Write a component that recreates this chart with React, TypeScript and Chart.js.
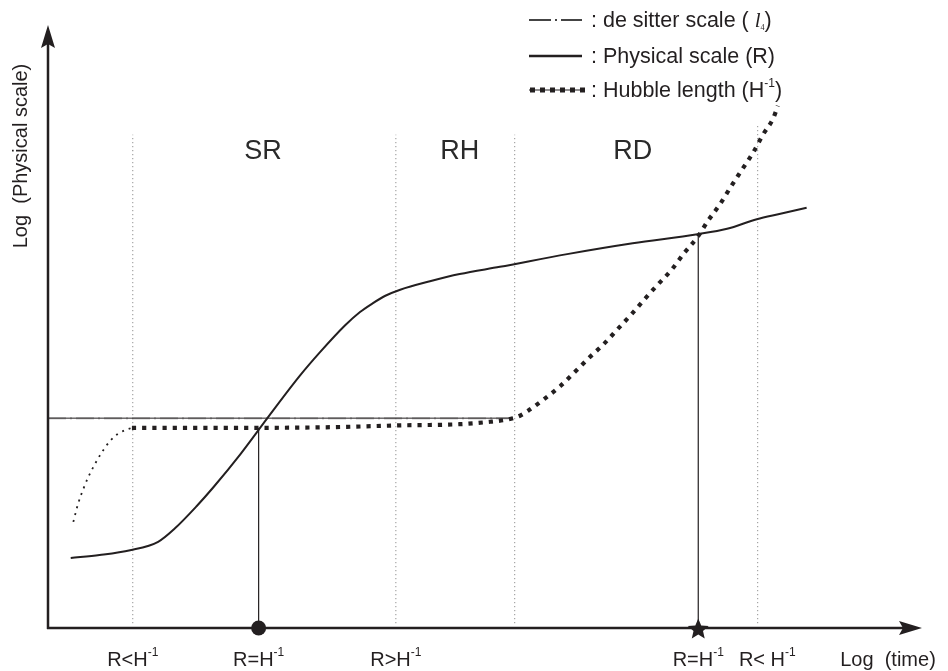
import React, { useEffect, useRef } from "react";
import { Chart, registerables } from "chart.js";

Chart.register(...registerables);

const INK = "#231f20";
const SANS = "'Liberation Sans', Arial, sans-serif";
const SERIF = "'Liberation Serif', 'Times New Roman', serif";

// Axis ranges (log time, log physical scale) in arbitrary units
const X_MIN = 0;
const X_MAX = 10;
const Y_MIN = 0;
const Y_MAX = 10;

// Physical scale R
const physicalX = [0.26, 0.59, 0.94, 1.26, 1.45, 1.7, 1.89, 2.2, 2.51, 2.88, 3.11, 3.4, 3.57, 3.71, 3.86, 4.03, 4.37, 4.71, 5.17, 5.94, 6.69, 7.43, 7.77, 8.11, 8.38, 8.68];
const physicalY = [1.16, 1.21, 1.29, 1.43, 1.65, 2.02, 2.33, 2.88, 3.48, 4.18, 4.57, 5.02, 5.24, 5.38, 5.51, 5.61, 5.75, 5.87, 5.99, 6.2, 6.38, 6.53, 6.62, 6.78, 6.87, 6.97];

// Hubble length H^-1 (early, thin dotted part)
const hubbleEarlyX = [0.29, 0.34, 0.4, 0.46, 0.53, 0.61, 0.71, 0.8, 0.88, 0.96];
const hubbleEarlyY = [1.76, 2.04, 2.29, 2.5, 2.7, 2.9, 3.1, 3.22, 3.28, 3.32];

// Hubble length H^-1 (main, thick dotted part)
const hubbleX = [0.96, 1.74, 2.43, 3.23, 4.03, 4.71, 5.06, 5.23, 5.32, 5.4, 5.49, 5.68, 5.86, 6.03, 6.19, 6.36, 6.52, 6.68, 6.83, 6.98, 7.14, 7.28, 7.43, 7.55, 7.69, 7.81, 7.94, 8.07, 8.18, 8.3, 8.35];
const hubbleY = [3.32, 3.32, 3.32, 3.33, 3.36, 3.38, 3.42, 3.45, 3.48, 3.52, 3.6, 3.8, 4.01, 4.25, 4.48, 4.71, 4.96, 5.21, 5.46, 5.7, 5.95, 6.22, 6.48, 6.75, 7.03, 7.31, 7.6, 7.89, 8.18, 8.46, 8.66];

// de Sitter scale l4
const deSitterX = [0, 5.32];
const deSitterY = [3.48, 3.48];

// Era boundaries (dotted verticals)
const boundaryX = [0.97, 3.98, 5.34, 8.12];
const boundaryBottom = [0.08, 0.08, 0.08, 0.08];
const boundaryTop = [8.18, 8.18, 8.18, 8.36];

// Horizon crossings R = H^-1
const crossingX = [2.41, 7.44];
const crossingY = [3.32, 6.53];
const crossingMarks = ["circle", "star"];

// Era labels
const regionLabels = ["SR", "RH", "RD"];
const regionX = [2.46, 4.71, 6.69];
const regionY = 7.93;

// Bottom tick labels
const tickBase = ["R<H", "R=H", "R>H", "R=H", "R< H"];
const tickSup = "-1";
const tickX = [0.97, 2.41, 3.98, 7.44, 8.23];

const xTitle = "Log  (time)";
const yTitle = "Log  (Physical scale)";

const zip = (xs: number[], ys: number[]) => xs.map((x, i) => ({ x, y: ys[i] }));

type Part = { t: string; font: string; dy?: number };

function drawParts(ctx: CanvasRenderingContext2D, parts: Part[], x: number, y: number, align: "left" | "center") {
  let w = 0;
  for (const p of parts) {
    ctx.font = p.font;
    w += ctx.measureText(p.t).width;
  }
  let cx = align === "center" ? x - w / 2 : x;
  ctx.textAlign = "left";
  ctx.textBaseline = "alphabetic";
  for (const p of parts) {
    ctx.font = p.font;
    ctx.fillText(p.t, cx, y + (p.dy || 0));
    cx += ctx.measureText(p.t).width;
  }
}

function drawStar(ctx: CanvasRenderingContext2D, cx: number, cy: number, ro: number, ri: number) {
  ctx.beginPath();
  for (let i = 0; i < 10; i++) {
    const r = i % 2 === 0 ? ro : ri;
    const a = -Math.PI / 2 + (i * Math.PI) / 5;
    const px = cx + r * Math.cos(a);
    const py = cy + r * Math.sin(a);
    if (i === 0) ctx.moveTo(px, py);
    else ctx.lineTo(px, py);
  }
  ctx.closePath();
  ctx.fill();
}

const overlayPlugin = {
  id: "overlay",
  afterDatasetsDraw(chart: any) {
    const ctx: CanvasRenderingContext2D = chart.ctx;
    const a = chart.chartArea;
    const xs = chart.scales.x;
    const ys = chart.scales.y;
    const ox = xs.getPixelForValue(X_MIN);
    const oy = ys.getPixelForValue(Y_MIN);
    ctx.save();
    ctx.fillStyle = INK;
    ctx.strokeStyle = INK;

    // axes
    ctx.lineWidth = 2.5;
    ctx.beginPath();
    ctx.moveTo(ox, oy + 1);
    ctx.lineTo(ox, a.top + 18);
    ctx.moveTo(ox - 1, oy);
    ctx.lineTo(a.right - 18, oy);
    ctx.stroke();
    // arrowheads
    ctx.beginPath();
    ctx.moveTo(ox, a.top);
    ctx.lineTo(ox - 7, a.top + 23);
    ctx.lineTo(ox, a.top + 19);
    ctx.lineTo(ox + 7, a.top + 23);
    ctx.closePath();
    ctx.fill();
    ctx.beginPath();
    ctx.moveTo(a.right, oy);
    ctx.lineTo(a.right - 23, oy - 7);
    ctx.lineTo(a.right - 19, oy);
    ctx.lineTo(a.right - 23, oy + 7);
    ctx.closePath();
    ctx.fill();

    // crossing markers
    crossingX.forEach((cxv, i) => {
      const px = xs.getPixelForValue(cxv);
      if (crossingMarks[i] === "circle") {
        ctx.beginPath();
        ctx.arc(px, oy, 7.5, 0, Math.PI * 2);
        ctx.fill();
      } else {
        drawStar(ctx, px, oy + 1.5, 11, 5);
      }
    });

    // era labels
    ctx.fillStyle = "#2a2a2a";
    regionLabels.forEach((lab, i) => {
      drawParts(ctx, [{ t: lab, font: `27px ${SANS}` }], xs.getPixelForValue(regionX[i]), ys.getPixelForValue(regionY) + 9, "center");
    });

    // bottom tick labels
    ctx.fillStyle = INK;
    const tickBaseline = oy + 38;
    tickBase.forEach((t, i) => {
      drawParts(
        ctx,
        [
          { t, font: `20px ${SANS}` },
          { t: tickSup, font: `12px ${SANS}`, dy: -10 },
        ],
        xs.getPixelForValue(tickX[i]),
        tickBaseline,
        "center"
      );
    });
    drawParts(ctx, [{ t: xTitle, font: `20px ${SANS}` }], 888, tickBaseline, "center");

    // y title
    ctx.save();
    ctx.translate(21, 156);
    ctx.rotate(-Math.PI / 2);
    ctx.font = `20px ${SANS}`;
    ctx.textAlign = "center";
    ctx.textBaseline = "middle";
    ctx.fillText(yTitle, 0, 0);
    ctx.restore();

    // legend
    const lx0 = 529;
    const lx1 = 582;
    const tx = 591;
    const rows = [20, 56, 90];
    // de sitter sample
    ctx.strokeStyle = "#444";
    ctx.lineWidth = 2.2;
    ctx.beginPath();
    ctx.moveTo(lx0, rows[0]);
    ctx.lineTo(lx0 + 22, rows[0]);
    ctx.moveTo(lx0 + 26, rows[0]);
    ctx.lineTo(lx0 + 28, rows[0]);
    ctx.moveTo(lx0 + 32, rows[0]);
    ctx.lineTo(lx1, rows[0]);
    ctx.stroke();
    // physical sample
    ctx.strokeStyle = INK;
    ctx.lineWidth = 2.5;
    ctx.beginPath();
    ctx.moveTo(lx0, rows[1]);
    ctx.lineTo(lx1, rows[1]);
    ctx.stroke();
    // hubble sample
    ctx.lineWidth = 1.2;
    ctx.beginPath();
    ctx.moveTo(lx0, rows[2]);
    ctx.lineTo(lx1, rows[2]);
    ctx.stroke();
    for (let k = 0; k < 6; k++) {
      ctx.fillRect(lx0 + 1 + k * 10, rows[2] - 2.5, 5, 5);
    }
    const lf = `21.5px ${SANS}`;
    drawParts(
      ctx,
      [
        { t: ": de sitter scale ( ", font: lf },
        { t: "l", font: `italic 21px ${SERIF}` },
        { t: "4", font: `8px ${SERIF}`, dy: 3 },
        { t: ")", font: lf },
      ],
      tx,
      rows[0] + 7,
      "left"
    );
    drawParts(ctx, [{ t: ": Physical scale (R)", font: lf }], tx, rows[1] + 7, "left");
    drawParts(
      ctx,
      [
        { t: ": Hubble length (H", font: lf },
        { t: "-1", font: `12px ${SANS}`, dy: -10 },
        { t: ")", font: lf },
      ],
      tx,
      rows[2] + 7,
      "left"
    );
    ctx.restore();
  },
};

export default function App() {
  const ref = useRef<HTMLCanvasElement | null>(null);
  useEffect(() => {
    if (!ref.current) return;
    // Listed top-most first (Chart.js draws the first dataset last)
    const datasets: any[] = [];
    datasets.push({
      data: zip(physicalX, physicalY),
      borderColor: INK,
      borderWidth: 2,
      cubicInterpolationMode: "monotone",
    });
    datasets.push({
      data: zip(hubbleX, hubbleY),
      borderColor: INK,
      borderWidth: 4.2,
      borderDash: [4.2, 6],
      borderCapStyle: "butt",
      cubicInterpolationMode: "monotone",
    });
    datasets.push({
      data: zip(hubbleEarlyX, hubbleEarlyY),
      borderColor: INK,
      borderWidth: 1.8,
      borderDash: [2, 5],
      cubicInterpolationMode: "monotone",
    });
    datasets.push({
      data: zip(deSitterX, deSitterY),
      borderColor: INK,
      borderWidth: 1,
    });
    datasets.push({
      data: zip(deSitterX, deSitterY),
      borderColor: "rgba(140,140,140,0.45)",
      borderWidth: 2.5,
      borderDash: [18, 4, 2, 4],
    });
    crossingX.forEach((cx, i) => {
      datasets.push({
        data: [
          { x: cx, y: Y_MIN },
          { x: cx, y: crossingY[i] },
        ],
        borderColor: INK,
        borderWidth: 1.2,
      });
    });
    boundaryX.forEach((bx, i) => {
      datasets.push({
        data: [
          { x: bx, y: boundaryBottom[i] },
          { x: bx, y: boundaryTop[i] },
        ],
        borderColor: "#7a7a7a",
        borderWidth: 1,
        borderDash: [1, 3],
      });
    });
    datasets.forEach((d) => {
      d.pointRadius = 0;
      d.fill = false;
      d.clip = false;
    });

    const chart = new Chart(ref.current, {
      type: "line",
      data: { datasets },
      options: {
        animation: false,
        responsive: false,
        devicePixelRatio: 1,
        layout: { padding: { left: 48, right: 26, top: 25, bottom: 43 } },
        plugins: { legend: { display: false }, tooltip: { enabled: false } },
        events: [],
        scales: {
          x: { type: "linear", min: X_MIN, max: X_MAX, display: false },
          y: { type: "linear", min: Y_MIN, max: Y_MAX, display: false },
        },
      },
      plugins: [overlayPlugin],
    });
    return () => chart.destroy();
  }, []);

  return (
    <div style={{ position: "fixed", left: 0, top: 0, width: 948, height: 671, background: "#fff" }}>
      <canvas ref={ref} width={948} height={671} />
    </div>
  );
}
